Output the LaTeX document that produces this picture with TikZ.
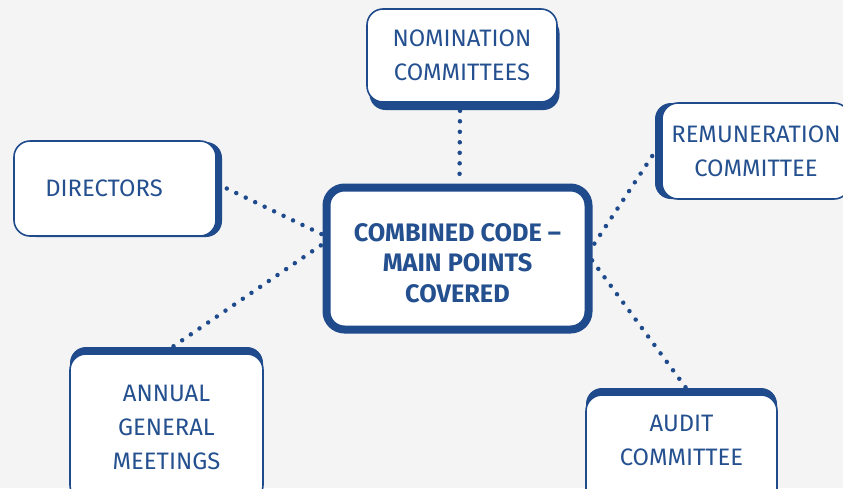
\documentclass[tikz,border=0pt]{standalone}
\usepackage{fontspec}
\setmainfont{Fira Sans}
\usetikzlibrary{shadows,calc}
\definecolor{cblue}{HTML}{1F4A8B}
\definecolor{tblue}{HTML}{24508F}
\definecolor{bgc}{HTML}{F4F4F4}
\pgfdeclarelayer{bg}
\pgfdeclarelayer{conn}
\pgfsetlayers{bg,conn,main}
\begin{document}
\begin{tikzpicture}[x=1pt,y=-1pt,
  sidebox/.style={draw=cblue,line width=1.6pt,fill=white,rounded corners=16pt,
    text=tblue,align=center,inner sep=0pt,
    font=\fontsize{23.8}{34.3}\selectfont},
  mainbox/.style={draw=cblue,line width=8pt,fill=white,rounded corners=18pt,
    text=tblue,align=center,inner sep=0pt,
    font=\bfseries\fontsize{25.3}{30.5}\selectfont},
  conline/.style={draw=cblue,line width=4.5pt,line cap=round,dash pattern=on 0pt off 10.5pt}
]
\begin{pgfonlayer}{bg}
\fill[bgc] (0,0) rectangle (843,488);
\end{pgfonlayer}
\useasboundingbox (0,0) rectangle (843,488);

\node[sidebox,minimum width=190pt,minimum height=93pt,
  general shadow={fill=cblue,shadow xshift=2.5pt,shadow yshift=-8pt}]
  (nom) at (462,55.5) {NOMINATION\\COMMITTEES};
\node[sidebox,minimum width=202pt,minimum height=95pt,
  general shadow={fill=cblue,shadow xshift=6pt,shadow yshift=-1pt}]
  (dir) at (115,188.5) {DIRECTORS\hspace{22pt}};
\node[sidebox,minimum width=188pt,minimum height=96pt,
  general shadow={fill=cblue,shadow xshift=-7pt,shadow yshift=0pt}]
  (rem) at (756,151) {REMUNERATION\\COMMITTEE};
\node[sidebox,minimum width=193pt,minimum height=147pt,
  general shadow={fill=cblue,shadow xshift=0pt,shadow yshift=7pt}]
  (ann) at (166.5,427.5) {ANNUAL\\GENERAL\\MEETINGS};
\node[sidebox,minimum width=191pt,minimum height=110pt,
  general shadow={fill=cblue,shadow xshift=0pt,shadow yshift=7pt}]
  (aud) at (681.5,450) {AUDIT\\COMMITTEE\rule[-20pt]{0pt}{0pt}};
\node[mainbox,minimum width=262pt,minimum height=142pt]
  (cen) at (457.5,258.5) {\rule{0pt}{27pt}COMBINED CODE --\\MAIN POINTS\\COVERED};

\coordinate (cN) at ($(cen.north)+(2,0)$);
\coordinate (cW1) at ($(cen.west)+(4,-22)$);
\coordinate (cW2) at ($(cen.west)+(4,-17)$);
\coordinate (cE1) at ($(cen.east)+(-4,-6)$);
\coordinate (cE2) at ($(cen.east)+(-4,-3)$);
\coordinate (nS) at ($(nom.south)+(-2,8)$);
\coordinate (dE) at ($(dir.east)+(10,0)$);
\coordinate (rW) at ($(rem.west)+(-9,5)$);
\coordinate (aN) at ($(ann.north)+(7,-7)$);
\coordinate (uN) at ($(aud.north)+(4,-7)$);

\begin{pgfonlayer}{conn}
\draw[conline] (nS) -- (cN);
\draw[conline] (dE) -- (cW1);
\draw[conline] (aN) -- (cW2);
\draw[conline] (rW) -- (cE1);
\draw[conline] (uN) -- (cE2);
\end{pgfonlayer}
\end{tikzpicture}
\end{document}
